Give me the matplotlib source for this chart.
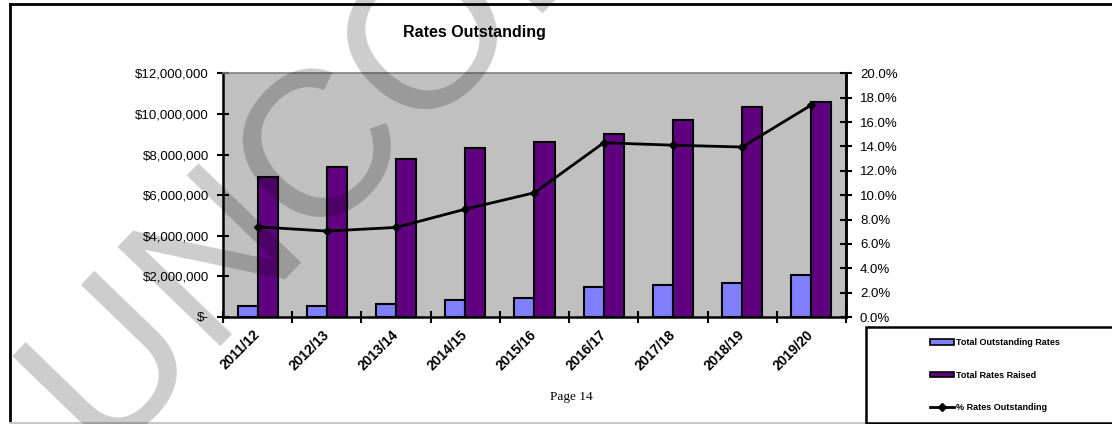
import numpy as np
import matplotlib
matplotlib.use("Agg")
import matplotlib.pyplot as plt
from matplotlib.ticker import FuncFormatter, FixedLocator
from matplotlib.patches import Rectangle, Patch
from matplotlib.lines import Line2D

years = ["2011/12", "2012/13", "2013/14", "2014/15", "2015/16",
         "2016/17", "2017/18", "2018/19", "2019/20"]
outstanding = [540000, 530000, 620000, 840000, 950000,
               1460000, 1600000, 1660000, 2070000]
raised = [6900000, 7380000, 7800000, 8300000, 8600000,
          9000000, 9720000, 10350000, 10580000]
pct_outstanding = [7.4, 7.05, 7.35, 8.85, 10.2, 14.3, 14.1, 13.95, 17.4]

light = "#8080ff"
dark = "#600080"

W, H = 1112, 424
fig = plt.figure(figsize=(W / 100, H / 100), dpi=100)

def px(x0, y0, x1, y1):
    # pixel box (top-left origin) -> figure fraction rect
    return [x0 / W, 1 - y1 / H, (x1 - x0) / W, (y1 - y0) / H]

ax = fig.add_axes(px(223, 73.3, 846, 317))
ax.set_facecolor("#c0c0c0")
x = np.arange(len(years))
bw = 0.29
ax.bar(x - bw / 2, outstanding, bw, color=light, edgecolor="black", linewidth=1.5, zorder=2)
ax.bar(x + bw / 2, raised, bw, color=dark, edgecolor="black", linewidth=1.5, zorder=2)
ax.set_xlim(-0.5, len(years) - 0.5)
ax.set_ylim(0, 12000000)
ax.set_yticks(np.arange(0, 12000001, 2000000))
ax.yaxis.set_major_formatter(FuncFormatter(lambda v, p: "$-" if v == 0 else "${:,.0f}".format(v)))
ax.set_xticks(x)
ax.set_xticklabels(years, rotation=45, ha="right", va="center", rotation_mode="anchor",
                   fontsize=10, fontweight="bold", family="Liberation Sans")
ax.xaxis.set_minor_locator(FixedLocator(np.arange(-0.5, len(years), 1.0)))
ax.tick_params(axis="x", which="major", length=0, pad=11)
ax.tick_params(axis="x", which="minor", length=8, width=1.5, direction="inout")
ax.tick_params(axis="y", length=8, width=1.5, direction="inout", labelsize=9.5, pad=6)
for lab in ax.get_yticklabels():
    lab.set_family("Liberation Sans")
for s in ["left", "bottom", "right"]:
    ax.spines[s].set_linewidth(1.8)
ax.spines["top"].set_color("#808080")
ax.spines["top"].set_linewidth(1.2)

ax2 = ax.twinx()
ax2.plot(x, np.array(pct_outstanding) / 100, color="black", lw=2, marker="D", markersize=4.5, zorder=3)
ax2.set_ylim(0, 0.20)
ax2.set_yticks(np.arange(0, 0.2001, 0.02))
ax2.yaxis.set_major_formatter(FuncFormatter(lambda v, p: "{:.1f}%".format(v * 100)))
ax2.tick_params(axis="y", length=8, width=1.5, direction="inout", labelsize=9.5, pad=6)
for lab in ax2.get_yticklabels():
    lab.set_family("Liberation Sans")
for s in ax2.spines.values():
    s.set_visible(False)
ax2.spines["right"].set_visible(True)
ax2.spines["right"].set_linewidth(1.8)

fig.text(474 / W, 1 - 33 / H, "Rates Outstanding", ha="center", va="center",
         fontsize=11.5, fontweight="bold", family="Liberation Sans")
fig.text(571 / W, 1 - 397 / H, "Page 14", ha="center", va="center",
         fontsize=9.5, family="Liberation Serif")

# outer frame
fig.add_artist(Line2D([10 / W, 10 / W], [1 - 4 / H, 1 - 422 / H], color="black", lw=2, transform=fig.transFigure))
fig.add_artist(Line2D([10 / W, 1.0], [1 - 4 / H, 1 - 4 / H], color="black", lw=2, transform=fig.transFigure))
fig.add_artist(Line2D([10 / W, 1.0], [1 - 422.5 / H, 1 - 422.5 / H], color="#c8c8c8", lw=1.5, transform=fig.transFigure))

# legend box
fig.add_artist(Rectangle((866 / W, 1 - 423 / H), 0.3, (423 - 327) / H, transform=fig.transFigure,
                         facecolor="white", edgecolor="black", lw=1.8, zorder=4))
handles = [Patch(facecolor=light, edgecolor="black", lw=1.2),
           Patch(facecolor=dark, edgecolor="black", lw=1.2),
           Line2D([], [], color="black", lw=2, marker="D", markersize=4)]
labels = ["Total Outstanding Rates", "Total Rates Raised", "% Rates Outstanding"]
leg = fig.legend(handles, labels, loc="center left", bbox_to_anchor=(922 / W, 1 - 375 / H),
                 bbox_transform=fig.transFigure, frameon=False, labelspacing=2.6,
                 handlelength=2.6, handleheight=0.55, handletextpad=0.25,
                 prop={"family": "Liberation Sans", "size": 6.5, "weight": "bold"})
leg.set_zorder(5)

# watermark
fig.text(105 / W, 1 - 467 / H, "UNCORRECTED PROOF", rotation=46, rotation_mode="anchor",
         ha="left", va="baseline", fontsize=150, family="Liberation Sans",
         color="black", alpha=0.2, zorder=10)

fig.savefig("out.png", dpi=100)
